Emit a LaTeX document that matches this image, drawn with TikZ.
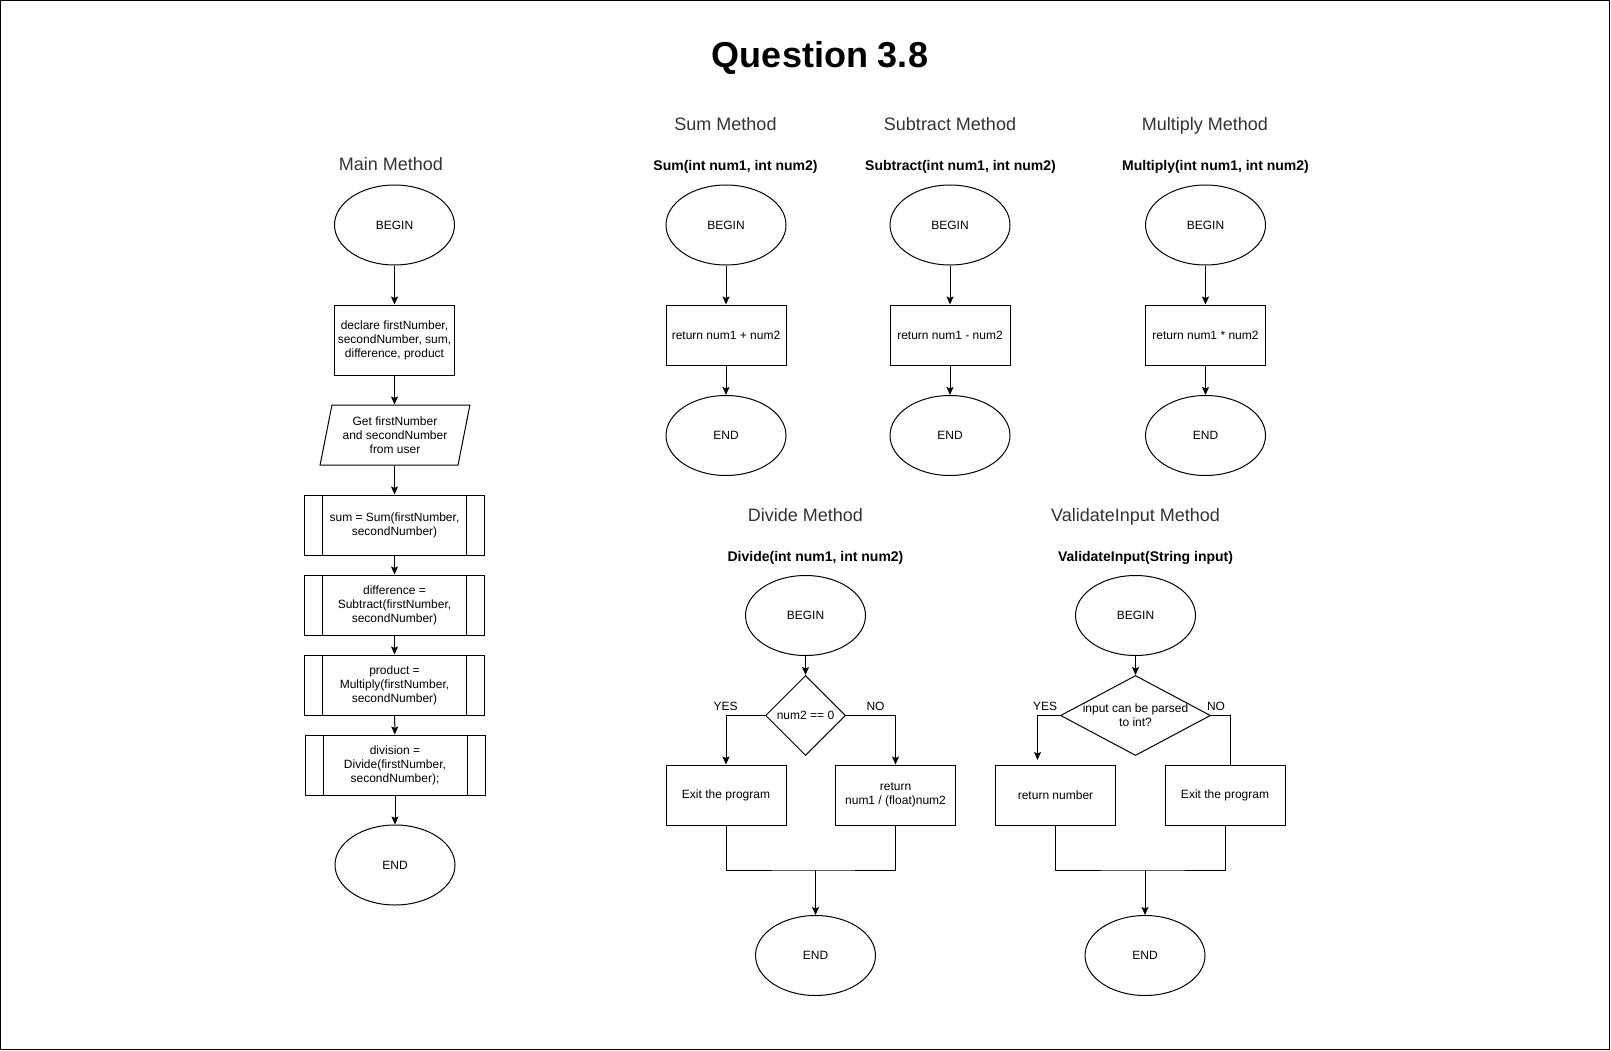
\documentclass[tikz,border=0pt]{standalone}
\usepackage{fontspec}
\setmainfont{Liberation Sans}
\usepackage{tikz}
\usetikzlibrary{shapes.geometric}
\usetikzlibrary{arrows.meta}
\definecolor{HeadGray}{HTML}{333333}
\newcommand{\fsz}[2]{\fontsize{#1}{#2}\selectfont}

\begin{document}
\begin{tikzpicture}[x=1pt, y=-1pt, line width=1pt,
    >={Stealth[length=8pt,width=7pt,inset=1.5pt]},
    startstop/.style={ellipse, draw, minimum width=120pt, minimum height=80pt, inner sep=0pt, font=\fsz{12}{14}},
    process/.style={rectangle, draw, minimum width=120pt, minimum height=60pt, inner sep=0pt, align=center, font=\fsz{12}{14}},
    iobox/.style={trapezium, draw, trapezium left angle=75, trapezium right angle=105, trapezium stretches=true,
      minimum width=150pt, minimum height=60pt, inner sep=0pt, align=center, font=\fsz{12}{14}},
    subproc/.style={rectangle, draw, minimum width=180pt, minimum height=60pt, inner sep=0pt, align=center, font=\fsz{12}{14},
      path picture={\draw ([xshift=18pt]path picture bounding box.north west) -- ([xshift=18pt]path picture bounding box.south west);
        \draw ([xshift=-18pt]path picture bounding box.north east) -- ([xshift=-18pt]path picture bounding box.south east);}},
    decision/.style={diamond, draw, inner sep=0pt, minimum width=80pt, minimum height=80pt, align=center, font=\fsz{12}{14}},
    heading/.style={anchor=base, text=HeadGray, font=\fsz{18}{21}},
    signature/.style={anchor=base, font=\fsz{14}{16}\bfseries},
    lbl/.style={font=\fsz{12}{14}}]
    \useasboundingbox (0,0) rectangle (1611,1051);
    \draw (0.5,0.5) rectangle (1609.5,1049.5);
    \node[anchor=base, font=\fsz{36}{40}\bfseries] (title) at (820,67.5) {Question 3.8};

    \node[heading] (mhead) at (391,171) {Main Method};
    \node[startstop] (mbegin) at (394.5,225) {BEGIN};
    \node[process, minimum height=70pt] (mdecl) at (394.5,340) {declare firstNumber,\\secondNumber, sum,\\difference, product};
    \node[iobox] (minput) at (395,435) {Get firstNumber\\and secondNumber\\from user};
    \node[subproc] (msum) at (394.5,525) {sum = Sum(firstNumber,\\secondNumber)};
    \node[subproc] (mdiff) at (394.5,605) {difference =\\Subtract(firstNumber,\\secondNumber)};
    \node[subproc] (mprod) at (394.5,685) {product =\\Multiply(firstNumber,\\secondNumber)};
    \node[subproc] (mdiv) at (395,765) {division =\\Divide(firstNumber,\\secondNumber);};
    \node[startstop] (mend) at (395,865) {END};
    \draw[->] (mbegin) -- (mdecl);
    \draw[->] (mdecl) -- (mdecl.south |- minput.north);
    \draw[->] (minput.south -| mdecl.south) -- (msum);
    \draw[->] (msum) -- (mdiff);
    \draw[->] (mdiff) -- (mprod);
    \draw[->] (mprod) -- (mdiv);
    \draw[->] (mdiv) -- (mend);

    \node[heading] (shead) at (725.5,131) {Sum Method};
    \node[signature] (ssig) at (735.5,170.5) {Sum(int num1, int num2)};
    \node[startstop] (sbegin) at (726,225) {BEGIN};
    \node[process] (sret) at (726,335) {return num1 + num2};
    \node[startstop] (send) at (726,435.5) {END};
    \draw[->] (sbegin) -- (sret);
    \draw[->] (sret) -- (send);

    \node[heading] (thead) at (950,131) {Subtract Method};
    \node[signature] (tsig) at (960.5,170.5) {Subtract(int num1, int num2)};
    \node[startstop] (tbegin) at (950,225) {BEGIN};
    \node[process] (tret) at (950,335) {return num1 - num2};
    \node[startstop] (tend) at (950,435.5) {END};
    \draw[->] (tbegin) -- (tret);
    \draw[->] (tret) -- (tend);

    \node[heading] (xhead) at (1205,131) {Multiply Method};
    \node[signature] (xsig) at (1215.5,170.5) {Multiply(int num1, int num2)};
    \node[startstop] (xbegin) at (1205.5,225) {BEGIN};
    \node[process] (xret) at (1205.5,335) {return num1 * num2};
    \node[startstop] (xend) at (1205.5,435.5) {END};
    \draw[->] (xbegin) -- (xret);
    \draw[->] (xret) -- (xend);

    \node[heading] (dhead) at (805.5,521.5) {Divide Method};
    \node[signature] (dsig) at (815.5,561) {Divide(int num1, int num2)};
    \node[startstop] (dbegin) at (805.5,615.5) {BEGIN};
    \node[decision] (dcheck) at (805.5,715.5) {num2 == 0};
    \node[process] (dexit) at (726,795) {Exit the program};
    \node[process] (dret) at (895.5,795) {return\\num1 / (float)num2};
    \node[startstop] (dend) at (815.5,955.5) {END};
    \coordinate (dmerge) at (815.5,870);
    \node[lbl] (dyes) at (725.5,706) {YES};
    \node[lbl] (dno) at (875.5,706) {NO};
    \draw[->] (dbegin) -- (dcheck);
    \draw[->] (dcheck.west) -| (dexit.north);
    \draw[->] (dcheck.east) -| (dret.north);
    \draw (dexit.south) |- (dmerge) -| (dret.south);
    \draw[->] (dmerge) -- (dend);

    \node[heading] (vhead) at (1135.5,521.5) {ValidateInput Method};
    \node[signature] (vsig) at (1145.5,561) {ValidateInput(String input)};
    \node[startstop] (vbegin) at (1135.5,615.5) {BEGIN};
    \node[decision, minimum width=150pt, label={[lbl, align=center]center:input can be parsed\\to int?}] (vcheck) at (1135.5,715.5) {};
    \node[process] (vret) at (1055.5,795) {return number};
    \node[process] (vexit) at (1225,795) {Exit the program};
    \node[startstop] (vend) at (1145,955.5) {END};
    \coordinate (vyesend) at (1037.5,760);
    \coordinate (vmerge) at (1145,870);
    \node[lbl] (vyes) at (1045,706) {YES};
    \node[lbl] (vno) at (1216,706) {NO};
    \draw[->] (vbegin) -- (vcheck);
    \draw[->] (vcheck.west) -| (vyesend);
    \draw (vcheck.east) -| ([xshift=5pt]vexit.north);
    \draw (vret.south) |- (vmerge) -| (vexit.south);
    \draw[->] (vmerge) -- (vend);
\end{tikzpicture}
\end{document}
